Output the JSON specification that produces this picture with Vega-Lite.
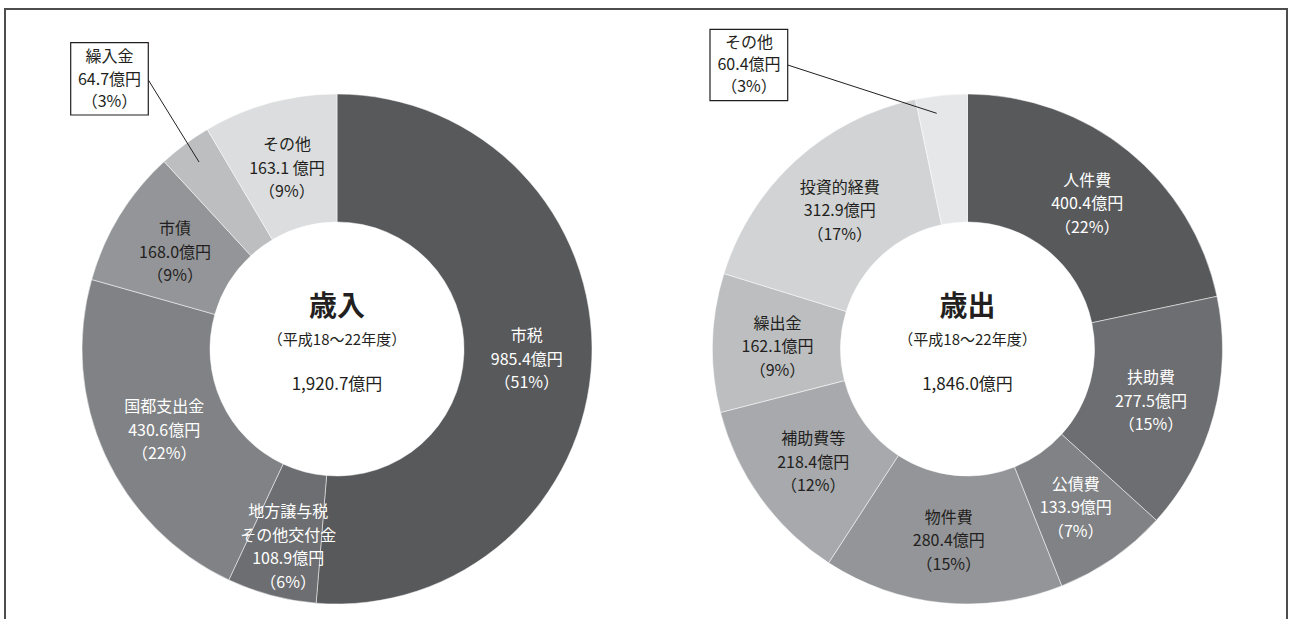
{
  "$schema": "https://vega.github.io/schema/vega-lite/v6.json",
  "width": 1289,
  "height": 619,
  "autosize": {"type": "fit", "contains": "padding"},
  "padding": {"left": 5, "top": 9, "right": 2, "bottom": -2},
  "background": "#ffffff",
  "config": {
    "view": {"stroke": "#4d4d4d", "strokeWidth": 2},
    "font": "Noto Sans CJK JP",
    "text": {"font": "Noto Sans CJK JP"}
  },
  "datasets": {
    "segments": [
      {"panel": "歳入", "n": 1, "item": "市税", "value": 985.4, "label": "市税\n985.4億円\n（51%）", "box": false},
      {"panel": "歳入", "n": 2, "item": "地方譲与税その他交付金", "value": 108.9, "label": "地方譲与税\nその他交付金\n108.9億円\n（6%）", "box": false},
      {"panel": "歳入", "n": 3, "item": "国都支出金", "value": 430.6, "label": "国都支出金\n430.6億円\n（22%）", "box": false},
      {"panel": "歳入", "n": 4, "item": "市債", "value": 168.0, "label": "市債\n168.0億円\n（9%）", "box": false},
      {"panel": "歳入", "n": 5, "item": "繰入金", "value": 64.7, "label": "繰入金\n64.7億円\n（3%）", "box": true},
      {"panel": "歳入", "n": 6, "item": "その他", "value": 163.1, "label": "その他\n163.1 億円\n（9%）", "box": false},
      {"panel": "歳出", "n": 1, "item": "人件費", "value": 400.4, "label": "人件費\n400.4億円\n（22%）", "box": false},
      {"panel": "歳出", "n": 2, "item": "扶助費", "value": 277.5, "label": "扶助費\n277.5億円\n（15%）", "box": false},
      {"panel": "歳出", "n": 3, "item": "公債費", "value": 133.9, "label": "公債費\n133.9億円\n（7%）", "box": false},
      {"panel": "歳出", "n": 4, "item": "物件費", "value": 280.4, "label": "物件費\n280.4億円\n（15%）", "box": false},
      {"panel": "歳出", "n": 5, "item": "補助費等", "value": 218.4, "label": "補助費等\n218.4億円\n（12%）", "box": false},
      {"panel": "歳出", "n": 6, "item": "繰出金", "value": 162.1, "label": "繰出金\n162.1億円\n（9%）", "box": false},
      {"panel": "歳出", "n": 7, "item": "投資的経費", "value": 312.9, "label": "投資的経費\n312.9億円\n（17%）", "box": false},
      {"panel": "歳出", "n": 8, "item": "その他", "value": 60.4, "label": "その他\n60.4億円\n（3%）", "box": true}
    ],
    "panels": [
      {"panel": "歳入", "title": "歳入", "period": "（平成18〜22年度）", "total": "1,920.7億円"},
      {"panel": "歳出", "title": "歳出", "period": "（平成18〜22年度）", "total": "1,846.0億円"}
    ]
  },
  "layer": [
    {
      "data": {"name": "segments"},
      "resolve": {"scale": {"color": "independent"}},
      "layer": [
        {
          "transform": [{"filter": "datum.panel == '歳入'"}],
          "mark": {"type": "arc", "outerRadius": 255, "innerRadius": 127, "stroke": "#ffffff", "strokeWidth": 0.5},
          "encoding": {
            "x": {"field": "panel", "type": "nominal", "scale": {"type": "point", "domain": ["歳入", "歳出"], "range": [332, 962.5], "padding": 0}, "axis": null},
            "y": {"field": "panel", "type": "nominal", "scale": {"type": "point", "domain": ["歳入", "歳出"], "range": [340, 340], "padding": 0}, "axis": null},
            "theta": {"field": "value", "type": "quantitative", "stack": "normalize"},
            "order": {"field": "n", "type": "quantitative"},
            "color": {"field": "item", "type": "nominal", "legend": null,
              "scale": {"domain": ["市税", "地方譲与税その他交付金", "国都支出金", "市債", "繰入金", "その他"],
                        "range": ["#58595b", "#6d6e71", "#808285", "#939598", "#bcbec0", "#dcddde"]}}
          }
        },
        {
          "transform": [{"filter": "datum.panel == '歳出'"}],
          "mark": {"type": "arc", "outerRadius": 255, "innerRadius": 127, "stroke": "#ffffff", "strokeWidth": 0.5},
          "encoding": {
            "x": {"field": "panel", "type": "nominal", "axis": null},
            "y": {"field": "panel", "type": "nominal", "axis": null},
            "theta": {"field": "value", "type": "quantitative", "stack": "normalize"},
            "order": {"field": "n", "type": "quantitative"},
            "color": {"field": "item", "type": "nominal", "legend": null,
              "scale": {"domain": ["人件費", "扶助費", "公債費", "物件費", "補助費等", "繰出金", "投資的経費", "その他"],
                        "range": ["#58595b", "#6d6e71", "#808285", "#939598", "#a7a9ac", "#bcbec0", "#d1d3d4", "#e6e7e8"]}}
          }
        },
        {
          "transform": [{"filter": "datum.panel == '歳入'"}],
          "mark": {"type": "text", "radius": 190, "dy": -20.5, "fontSize": 16, "lineHeight": 23.5, "lineBreak": "\n", "align": "center", "baseline": "middle"},
          "encoding": {
            "x": {"field": "panel", "type": "nominal", "axis": null},
            "y": {"field": "panel", "type": "nominal", "axis": null},
            "theta": {"field": "value", "type": "quantitative", "stack": "normalize"},
            "order": {"field": "n", "type": "quantitative"},
            "text": {"condition": {"test": "datum.box", "value": ""}, "field": "label"},
            "fill": {"condition": {"test": "datum.n <= 3", "value": "#ffffff"}, "value": "#231f20"}
          }
        },
        {
          "transform": [{"filter": "datum.panel == '歳出'"}],
          "mark": {"type": "text", "radius": 190, "dy": -20.5, "fontSize": 16, "lineHeight": 23.5, "lineBreak": "\n", "align": "center", "baseline": "middle"},
          "encoding": {
            "x": {"field": "panel", "type": "nominal", "axis": null},
            "y": {"field": "panel", "type": "nominal", "axis": null},
            "theta": {"field": "value", "type": "quantitative", "stack": "normalize"},
            "order": {"field": "n", "type": "quantitative"},
            "text": {"condition": {"test": "datum.box", "value": ""}, "field": "label"},
            "fill": {"condition": {"test": "datum.n <= 3", "value": "#ffffff"}, "value": "#231f20"}
          }
        },
        {
          "data": {"name": "panels"},
          "mark": {"type": "text", "fontSize": 28, "fontWeight": "bold", "dy": -41, "align": "center", "baseline": "middle", "fill": "#231f20"},
          "encoding": {
            "x": {"field": "panel", "type": "nominal", "axis": null},
            "y": {"field": "panel", "type": "nominal", "axis": null},
            "text": {"field": "title"}
          }
        },
        {
          "data": {"name": "panels"},
          "mark": {"type": "text", "fontSize": 15, "dy": -9.5, "align": "center", "baseline": "middle", "fill": "#231f20"},
          "encoding": {
            "x": {"field": "panel", "type": "nominal", "axis": null},
            "y": {"field": "panel", "type": "nominal", "axis": null},
            "text": {"field": "period"}
          }
        },
        {
          "data": {"name": "panels"},
          "mark": {"type": "text", "fontSize": 17, "dy": 36, "align": "center", "baseline": "middle", "fill": "#231f20"},
          "encoding": {
            "x": {"field": "panel", "type": "nominal", "axis": null},
            "y": {"field": "panel", "type": "nominal", "axis": null},
            "text": {"field": "total"}
          }
        }
      ]
    },
    {
      "data": {"name": "segments"},
      "layer": [
        {
          "transform": [{"filter": "datum.box && datum.panel == '歳入'"}],
          "mark": {"type": "rule", "stroke": "#231f20", "strokeWidth": 1},
          "encoding": {
            "x": {"datum": 147.3, "type": "quantitative", "scale": {"domain": [5, 1287], "nice": false, "zero": false}, "axis": null},
            "x2": {"datum": 199},
            "y": {"datum": 78.3, "type": "quantitative", "scale": {"domain": [9, 621], "nice": false, "zero": false, "reverse": true}, "axis": null},
            "y2": {"datum": 162}
          }
        },
        {
          "transform": [{"filter": "datum.box && datum.panel == '歳出'"}],
          "mark": {"type": "rule", "stroke": "#231f20", "strokeWidth": 1},
          "encoding": {
            "x": {"datum": 787.7, "type": "quantitative", "scale": {"domain": [5, 1287], "nice": false, "zero": false}, "axis": null},
            "x2": {"datum": 936.7},
            "y": {"datum": 65, "type": "quantitative", "scale": {"domain": [9, 621], "nice": false, "zero": false, "reverse": true}, "axis": null},
            "y2": {"datum": 113.3}
          }
        },
        {
          "transform": [{"filter": "datum.box && datum.panel == '歳入'"}],
          "mark": {"type": "rect", "fill": "#ffffff", "stroke": "#231f20", "strokeWidth": 1.2},
          "encoding": {
            "x": {"datum": 70.7, "type": "quantitative", "scale": {"domain": [5, 1287], "nice": false, "zero": false}, "axis": null},
            "x2": {"datum": 148.3},
            "y": {"datum": 42.7, "type": "quantitative", "scale": {"domain": [9, 621], "nice": false, "zero": false, "reverse": true}, "axis": null},
            "y2": {"datum": 115}
          }
        },
        {
          "transform": [{"filter": "datum.box && datum.panel == '歳出'"}],
          "mark": {"type": "rect", "fill": "#ffffff", "stroke": "#231f20", "strokeWidth": 1.2},
          "encoding": {
            "x": {"datum": 710, "type": "quantitative", "scale": {"domain": [5, 1287], "nice": false, "zero": false}, "axis": null},
            "x2": {"datum": 787.7},
            "y": {"datum": 29.3, "type": "quantitative", "scale": {"domain": [9, 621], "nice": false, "zero": false, "reverse": true}, "axis": null},
            "y2": {"datum": 100.7}
          }
        },
        {
          "transform": [{"filter": "datum.box && datum.panel == '歳入'"}],
          "mark": {"type": "text", "fontSize": 16, "lineHeight": 22.5, "lineBreak": "\n", "align": "center", "baseline": "middle", "fill": "#231f20"},
          "encoding": {
            "x": {"datum": 109.5, "type": "quantitative", "scale": {"domain": [5, 1287], "nice": false, "zero": false}, "axis": null},
            "y": {"datum": 57, "type": "quantitative", "scale": {"domain": [9, 621], "nice": false, "zero": false, "reverse": true}, "axis": null},
            "text": {"field": "label"}
          }
        },
        {
          "transform": [{"filter": "datum.box && datum.panel == '歳出'"}],
          "mark": {"type": "text", "fontSize": 16, "lineHeight": 22, "lineBreak": "\n", "align": "center", "baseline": "middle", "fill": "#231f20"},
          "encoding": {
            "x": {"datum": 749, "type": "quantitative", "scale": {"domain": [5, 1287], "nice": false, "zero": false}, "axis": null},
            "y": {"datum": 43.3, "type": "quantitative", "scale": {"domain": [9, 621], "nice": false, "zero": false, "reverse": true}, "axis": null},
            "text": {"field": "label"}
          }
        }
      ]
    }
  ],
  "resolve": {"scale": {"x": "independent", "y": "independent"}}
}
